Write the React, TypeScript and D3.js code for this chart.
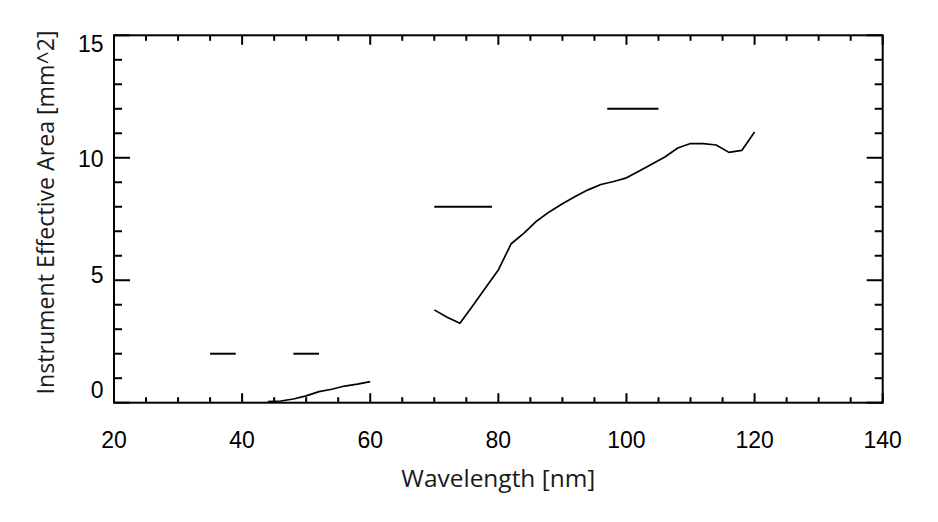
import * as d3 from 'd3'

// effective area curve, sampled every 2 nm (gap between 60 and 70 nm)
const wavelengths = [
  44, 46, 48, 50, 52, 54, 56, 58, 60,
  62, 64, 66, 68,
  70, 72, 74, 76, 78, 80, 82, 84, 86, 88, 90, 92, 94, 96, 98, 100,
  102, 104, 106, 108, 110, 112, 114, 116, 118, 120,
]
const areas: (number | null)[] = [
  0.05, 0.07, 0.15, 0.28, 0.45, 0.55, 0.68, 0.76, 0.86,
  null, null, null, null,
  3.79, 3.49, 3.24, 3.96, 4.69, 5.42, 6.49, 6.92, 7.42, 7.8, 8.12, 8.42, 8.69, 8.91, 9.03, 9.18,
  9.46, 9.75, 10.03, 10.4, 10.58, 10.58, 10.52, 10.22, 10.3, 11.05,
]

// horizontal reference bars
const barStart = [35, 48, 70, 97]
const barEnd = [39, 52, 79, 105]
const barLevel = [2, 2, 8, 12]

const xTicks = [20, 40, 60, 80, 100, 120, 140]
const yTicks = [0, 5, 10, 15]

const W = 938
const H = 522
const margin = { top: 35.3, right: 55.3, bottom: 119.3, left: 114 }

export default function App() {
  const innerW = W - margin.left - margin.right
  const innerH = H - margin.top - margin.bottom

  const x = d3.scaleLinear().domain([20, 140]).range([0, innerW])
  const y = d3.scaleLinear().domain([0, 15]).range([innerH, 0])
  // the y labels in the original sit slightly compressed relative to the ticks
  const yLabel = d3.scaleLinear().domain([0, 15]).range([innerH - 12.7, 8.2])

  const xMinor = d3.range(20, 141, 5).filter(v => v % 20 !== 0)
  const yMinor = d3.range(0, 16, 1).filter(v => v % 5 !== 0)

  const pts = wavelengths.map((w, i) => ({ w, a: areas[i] }))
  const line = d3
    .line<{ w: number; a: number | null }>()
    .defined(d => d.a !== null)
    .x(d => x(d.w))
    .y(d => y(d.a as number))

  const tickFont = '"Liberation Sans", Arial, sans-serif'
  const titleFont = '"Open Sans", "Noto Sans", sans-serif'

  return (
    <svg width={W} height={H} style={{ position: 'absolute', left: 0, top: 0, background: '#fff' }}>
      <g transform={`translate(${margin.left},${margin.top})`}>
        {/* data */}
        <path d={line(pts) ?? ''} fill="none" stroke="#000" strokeWidth={1.7} strokeLinejoin="round" />
        {barLevel.map((lv, i) => (
          <line key={i} x1={x(barStart[i])} x2={x(barEnd[i])} y1={y(lv)} y2={y(lv)} stroke="#000" strokeWidth={2} />
        ))}

        {/* x ticks, bottom + top, inward */}
        {xTicks.map(v => (
          <g key={'xt' + v}>
            <line x1={x(v)} x2={x(v)} y1={innerH} y2={innerH - 9.5} stroke="#000" strokeWidth={2} />
            <line x1={x(v)} x2={x(v)} y1={0} y2={9.5} stroke="#000" strokeWidth={2} />
            <text x={x(v)} y={innerH + 45.5} textAnchor="middle" fontFamily={tickFont} fontSize={23} fill="#000">
              {v}
            </text>
          </g>
        ))}
        {xMinor.map(v => (
          <g key={'xm' + v}>
            <line x1={x(v)} x2={x(v)} y1={innerH} y2={innerH - 5.5} stroke="#000" strokeWidth={2} />
            <line x1={x(v)} x2={x(v)} y1={0} y2={5.5} stroke="#000" strokeWidth={2} />
          </g>
        ))}

        {/* y ticks, left + right, inward */}
        {yTicks.map(v => (
          <g key={'yt' + v}>
            <line x1={0} x2={16} y1={y(v)} y2={y(v)} stroke="#000" strokeWidth={2} />
            <line x1={innerW} x2={innerW - 16} y1={y(v)} y2={y(v)} stroke="#000" strokeWidth={2} />
            <text x={-10.5} y={yLabel(v)} dy="0.36em" textAnchor="end" fontFamily={tickFont} fontSize={23} fill="#000">
              {v}
            </text>
          </g>
        ))}
        {yMinor.map(v => (
          <g key={'ym' + v}>
            <line x1={0} x2={8} y1={y(v)} y2={y(v)} stroke="#000" strokeWidth={2} />
            <line x1={innerW} x2={innerW - 8} y1={y(v)} y2={y(v)} stroke="#000" strokeWidth={2} />
          </g>
        ))}

        {/* frame */}
        <rect x={0} y={0} width={innerW} height={innerH} fill="none" stroke="#000" strokeWidth={2} />

        {/* axis titles */}
        <text
          x={x(80)}
          y={innerH + 84.5}
          textAnchor="middle"
          fontFamily={titleFont}
          fontSize={23}
          textLength={194}
          lengthAdjust="spacingAndGlyphs"
          fill="#1a1a1a"
        >
          Wavelength [nm]
        </text>
        <text
          transform={`translate(${-60},${212.5 - margin.top}) rotate(-90)`}
          textAnchor="middle"
          fontFamily={titleFont}
          fontSize={23}
          textLength={364}
          lengthAdjust="spacingAndGlyphs"
          fill="#1a1a1a"
        >
          Instrument Effective Area [mm^2]
        </text>
      </g>
    </svg>
  )
}
